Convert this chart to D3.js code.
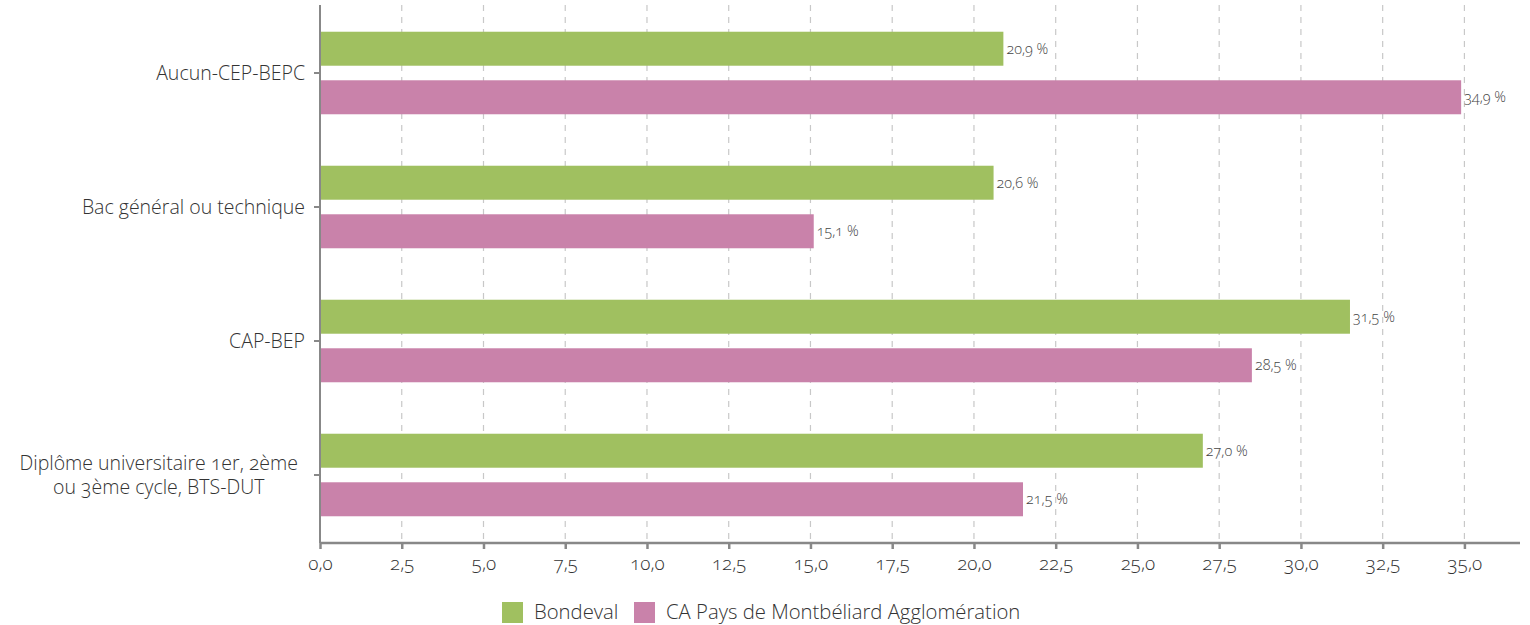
<!DOCTYPE html>
<html><head><meta charset="utf-8">
<script src="https://cdn.jsdelivr.net/npm/d3@7"></script>
<style>
body{margin:0;background:#fff;}
text{font-family:"Open Sans","Noto Sans",sans-serif;font-feature-settings:"onum";font-weight:300;}
</style></head><body>
<svg id="c" width="1530" height="625"></svg>
<script>
const categories = ["Aucun-CEP-BEPC", "Bac général ou technique", "CAP-BEP", "Diplôme universitaire 1er, 2ème\nou 3ème cycle, BTS-DUT"];
const seriesNames = ["Bondeval", "CA Pays de Montbéliard Agglomération"];
const bondeval = [20.9, 20.6, 31.5, 27.0];
const caPays = [34.9, 15.1, 28.5, 21.5];
const xTicks = [0, 2.5, 5, 7.5, 10, 12.5, 15, 17.5, 20, 22.5, 25, 27.5, 30, 32.5, 35];
const colors = ["#a0c060", "#c982aa"];

const svg = d3.select("#c");
const fmt = v => v.toFixed(1).replace(".", ",");
const x = d3.scaleLinear().domain([0, 36.7]).range([320, 1520]);
const y = d3.scaleBand().domain(categories).range([6, 542]);
const inner = d3.scaleBand().domain([0, 1]).range([0, y.bandwidth()]).paddingInner(0.3).paddingOuter(0.53);

// gridlines
svg.append("g").selectAll("line").data(xTicks.slice(1)).join("line")
  .attr("x1", d => x(d)).attr("x2", d => x(d)).attr("y1", 5).attr("y2", 542)
  .attr("stroke", "#c8c8c8").attr("stroke-width", 1.2).attr("stroke-dasharray", "6,6");

const series = [bondeval, caPays];
const g = svg.append("g");
categories.forEach((c, i) => {
  series.forEach((s, k) => {
    const yy = y(c) + inner(k);
    g.append("rect").attr("x", x(0)).attr("y", yy).attr("width", x(s[i]) - x(0)).attr("height", inner.bandwidth()).attr("fill", colors[k]);
    g.append("text").attr("x", x(s[i]) + 3).attr("y", yy + inner.bandwidth() / 2).attr("dy", "0.35em")
      .attr("font-size", 14.5).attr("fill", "#444").text(fmt(s[i]) + " %");
  });
});

// x axis
const xa = svg.append("g").attr("transform", "translate(0,543)")
  .call(d3.axisBottom(x).tickValues(xTicks).tickSize(6).tickFormat(fmt));
xa.select(".domain").attr("stroke", "#888").attr("stroke-width", 2.5).attr("d", "M320,0H1520");
xa.selectAll(".tick line").attr("stroke", "#888").attr("stroke-width", 2.5);
xa.selectAll(".tick text").attr("font-size", 19).attr("fill", "#333").attr("dy", "0.95em")
  .style("font-family", '"Open Sans",sans-serif').style("font-weight", 300);

// y axis
svg.append("line").attr("x1", 320).attr("x2", 320).attr("y1", 5).attr("y2", 543).attr("stroke", "#888").attr("stroke-width", 2);
svg.append("g").selectAll("line").data(categories).join("line")
  .attr("x1", 314).attr("x2", 320).attr("y1", d => y(d) + y.bandwidth() / 2).attr("y2", d => y(d) + y.bandwidth() / 2)
  .attr("stroke", "#888").attr("stroke-width", 2);

// category labels
categories.forEach(c => {
  const lines = c.split("\n");
  const cy = y(c) + y.bandwidth() / 2;
  const t = svg.append("text").attr("font-size", 19.5).attr("fill", "#333");
  const lh = 24;
  const spans = lines.map((l, j) => t.append("tspan").attr("x", 305).attr("y", cy + (j - (lines.length - 1) / 2) * lh).attr("dy", "0.35em").text(l));
  if (lines.length > 1) {
    const widths = spans.map(s => s.node().getComputedTextLength());
    const maxW = d3.max(widths);
    const right = 298;
    spans.forEach(s => s.attr("x", right - maxW / 2).attr("text-anchor", "middle"));
  } else {
    t.attr("text-anchor", "end");
  }
});

// legend
const legX = [502, 634];
seriesNames.forEach((n, k) => {
  svg.append("rect").attr("x", legX[k]).attr("y", 602).attr("width", 21).attr("height", 21).attr("fill", colors[k]);
  svg.append("text").attr("x", legX[k] + 32).attr("y", 612).attr("dy", "0.35em").attr("font-size", 20.3).attr("fill", "#333").text(n);
});
</script></body></html>
